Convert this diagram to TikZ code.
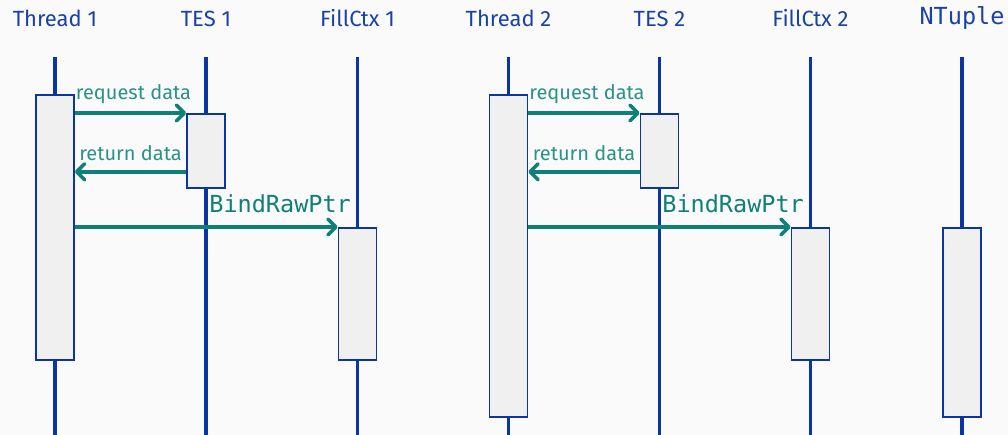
\documentclass[tikz,border=0pt]{standalone}
\usepackage{fontspec}
\setmainfont{Fira Sans}
\setmonofont{DejaVu Sans Mono}
\usepackage{tikz}
\usetikzlibrary{arrows.meta,positioning}
\usepackage{xcolor}
\definecolor{SeqBlue}{HTML}{0B35A0}
\definecolor{SeqHead}{HTML}{1A42A4}
\definecolor{SeqTeal}{HTML}{0F8078}
\definecolor{SeqLabel}{HTML}{2A9388}
\definecolor{SeqFill}{HTML}{F0F0F0}
\definecolor{SeqBack}{HTML}{FAFAFA}

\begin{document}
\begin{tikzpicture}[x=1pt, y=-1pt,
    head/.style={text=SeqHead, font=\fontsize{22}{24}\selectfont, anchor=base, inner sep=0pt},
    headtt/.style={head, font=\ttfamily\fontsize{23.5}{25}\selectfont},
    life/.style={SeqBlue, line width=3.5pt},
    act/.style={draw=SeqBlue, line width=1.8pt, fill=SeqFill, minimum width=38pt, inner sep=0pt, anchor=north},
    msg/.style={-{Straight Barb[length=8pt,width=16pt,round]}, SeqTeal, line width=3.5pt},
    lbl/.style={text=SeqLabel, font=\fontsize{20}{22}\selectfont, anchor=base, inner sep=0pt},
    call/.style={text=SeqTeal, font=\ttfamily\fontsize{23.5}{25}\selectfont, anchor=base east, inner sep=0pt}]
        \fill[SeqBack] (0,0) rectangle (1008,435);
        \useasboundingbox (0,0) rectangle (1008,435);

        % participants
        \node[head] (thr1) at (55,26.5) {Thread 1};
        \node[head] (tes1) at (206,26.5) {TES 1};
        \node[head] (fill1) at (357.5,26.5) {FillCtx 1};
        \node[head] (thr2) at (508.5,26.5) {Thread 2};
        \node[head] (tes2) at (659.5,26.5) {TES 2};
        \node[head] (fill2) at (810.5,26.5) {FillCtx 2};
        \node[headtt] (ntup) at (962,25) {NTuple};

        % lifelines
        \foreach \x in {55,206,357.5,508.5,659.5,810.5,962}
            \draw[life] (\x,57) -- (\x,437);

        % activations
        \node[act,minimum height=265pt] (a1) at (55,94) {};
        \node[act,minimum height=74pt] (b1) at (206,113) {};
        \node[act,minimum height=132pt] (c1) at (357.5,227) {};
        \node[act,minimum height=322pt] (a2) at (508.5,94) {};
        \node[act,minimum height=74pt] (b2) at (659.5,113) {};
        \node[act,minimum height=132pt] (c2) at (810.5,227) {};
        \node[act,minimum height=189pt] (d2) at (962,227) {};

        % messages
        \draw[msg] (a1.east |- b1.north) -- node[lbl,xshift=3pt,yshift=13pt] {request data} (b1.north west);
        \draw[msg] ([yshift=17pt]b1.south west) coordinate (r1) -- node[lbl,yshift=11pt] {return data} (a1.east |- r1);
        \draw[msg] (a1.east |- c1.north) -- node[call,at end,xshift=15pt,yshift=14pt] {BindRawPtr} (c1.north west);

        \draw[msg] (a2.east |- b2.north) -- node[lbl,xshift=3pt,yshift=13pt] {request data} (b2.north west);
        \draw[msg] ([yshift=17pt]b2.south west) coordinate (r2) -- node[lbl,yshift=11pt] {return data} (a2.east |- r2);
        \draw[msg] (a2.east |- c2.north) -- node[call,at end,xshift=15pt,yshift=14pt] {BindRawPtr} (c2.north west);
\end{tikzpicture}
\end{document}
